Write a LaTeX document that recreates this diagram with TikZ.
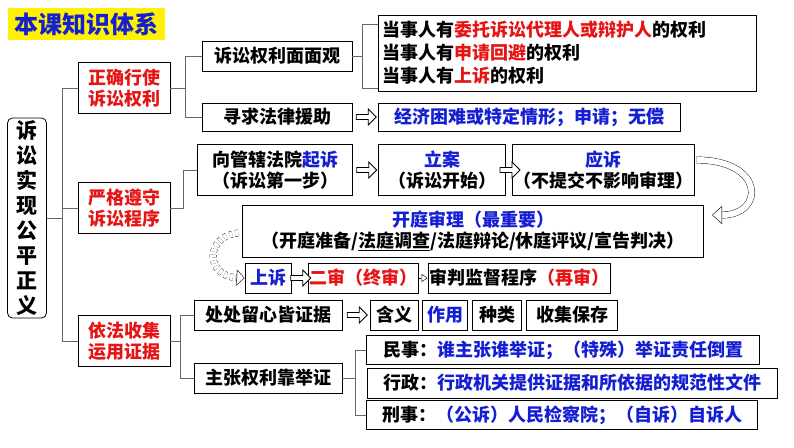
\documentclass[tikz,border=0pt]{standalone}
\usepackage{fontspec}
\setmainfont{Noto Sans CJK SC}
\usetikzlibrary{shapes.arrows,arrows.meta,calc}
\definecolor{dblue}{RGB}{20,30,210}
\definecolor{dred}{RGB}{230,20,20}
\begin{document}
\begin{tikzpicture}[x=1pt,y=-1pt,
  box/.style={draw, thick, fill=white, inner sep=1pt, align=center, font=\bfseries\fontsize{18}{21}\selectfont},
  tree/.style={draw=gray!80!black, thick},
  hollow/.style={single arrow, draw, thick, fill=white, minimum height=20pt, minimum width=16pt, single arrow head extend=3pt, inner sep=1pt}]
\useasboundingbox (0,0) rectangle (794,447);
% title and root
\node[fill=yellow, text=dblue, font=\bfseries\fontsize{24}{26}\selectfont, minimum width=157, minimum height=32, inner sep=0] (title) at (86,24) {本课知识体系};
\node[box, rounded corners=5pt, minimum width=39, minimum height=200, font=\bfseries\fontsize{21}{25}\selectfont] (root) at (27,218) {诉\\讼\\实\\现\\公\\平\\正\\义};
% first level
\node[box, text=dred, minimum width=92, minimum height=51] (use) at (124,88) {正确行使\\诉讼权利};
\node[box, text=dred, minimum width=92, minimum height=51] (keep) at (124,208) {严格遵守\\诉讼程序};
\node[box, text=dred, minimum width=92, minimum height=51] (proof) at (124,341) {依法收集\\运用证据};
% rights
\node[box, minimum width=150, minimum height=30] (view) at (277,56) {诉讼权利面面观};
\node[box, minimum width=150, minimum height=28] (help) at (277,117) {寻求法律援助};
\node[box, minimum width=378, minimum height=76, align=left, text width=370, font=\bfseries\fontsize{18}{23}\selectfont] (rights) at (567,53)
  {当事人有\textcolor{dred}{委托诉讼代理人或辩护人}的权利\\当事人有\textcolor{dred}{申请回避}的权利\\当事人有\textcolor{dred}{上诉}的权利};
\node[box, text=dblue, minimum width=302, minimum height=28] (poor) at (529,117) {经济困难或特定情形；申请；无偿};
% procedure
\node[box, minimum width=155, minimum height=51] (sue) at (275,170) {向管辖法院\textcolor{dblue}{起诉}\\（诉讼第一步）};
\node[box, minimum width=127, minimum height=51] (file) at (442,170) {\textcolor{dblue}{立案}\\（诉讼开始）};
\node[box, minimum width=175, minimum height=51] (answer) at (603,170) {\textcolor{dblue}{应诉}\\（不提交不影响审理）};
\node[box, minimum width=461, minimum height=52] (trial) at (473,231) {\textcolor{dblue}{开庭审理（最重要）}\\（开庭准备/\underline{法庭调查}/法庭辩论/休庭评议/宣告判决）};
\node[box, text=dblue, minimum width=46, minimum height=30] (appeal) at (268,278) {上诉};
\node[box, text=dred, minimum width=97, minimum height=30] (second) at (363,278) {二审（终审）};
\node[box, minimum width=169, minimum height=30] (retrial) at (519,278) {审判监督程序\textcolor{dred}{（再审）}};
% evidence
\node[box, minimum width=148, minimum height=30] (care) at (268,315) {处处留心皆证据};
\node[box, minimum width=48, minimum height=30] (mean) at (394,315) {含义};
\node[box, text=dblue, minimum width=45, minimum height=30] (role) at (445,315) {作用};
\node[box, minimum width=49, minimum height=30] (kind) at (497,315) {种类};
\node[box, minimum width=91, minimum height=30] (keepev) at (572,315) {收集保存};
\node[box, minimum width=148, minimum height=30] (claim) at (268,378) {主张权利靠举证};
\node[box, minimum width=393, minimum height=29, inner sep=3pt] (civil) at (563,350) {民事：\textcolor{dblue}{谁主张谁举证；（特殊）举证责任倒置}};
\node[box, minimum width=410, minimum height=30, inner sep=3pt] (admin) at (572,383) {行政：\textcolor{dblue}{行政机关提供证据和所依据的规范性文件}};
\node[box, minimum width=391, minimum height=29, inner sep=3pt] (crime) at (562,415) {刑事：\textcolor{dblue}{（公诉）人民检察院；（自诉）自诉人}};
% tree lines
\draw[tree] (root.east) -- (62,218);
\draw[tree] (use.west) -| (62,341) -- (proof.west);
\draw[tree] (62,208) -- (keep.west);
\draw[tree] (use.east) -- (185,88);
\draw[tree] (view.west) -| (185,117) -- (help.west);
\draw[tree] (185,56) |- (185,88);
\draw[tree] (keep.east) -- (183,208) |- (sue.west);
\draw[tree] (proof.east) -- (180,341);
\draw[tree] (care.west) -| (180,378) -- (claim.west);
\draw[tree] (view.east) -- (362,56);
\draw[tree] (rights.west |- 0,24) -| (362,88) -- (rights.west |- 0,88);
\draw[tree] (claim.east) -- (355,378);
\draw[tree] (civil.west) -| (355,415) -- (crime.west);
% hollow arrows
\node[hollow] at ($(help.east)!0.5!(poor.west)$) {};
\node[hollow] at ($(sue.east)!0.5!(file.west)$) {};
\node[hollow] at ($(file.east)!0.5!(answer.west)$) {};
\node[hollow] at ($(appeal.east)!0.5!(second.west)$) {};
\node[hollow] at ($(care.east)!0.5!(mean.west)$) {};
\draw[dashed, -{Triangle[open,length=6pt,width=8pt]}] (second.east) -- (retrial.west);
\draw[double=white, double distance=6pt, -{Triangle[open,length=10pt,width=18pt]}] (answer.east) ++(2,-10) .. controls (765,160) and (765,215) .. (712,215);
\draw[dashed, double=white, double distance=6pt, -{Triangle[open,length=8pt,width=16pt]}] (trial.west) ++(-4,2) .. controls (205,236) and (205,276) .. (appeal.west);
\end{tikzpicture}
\end{document}
